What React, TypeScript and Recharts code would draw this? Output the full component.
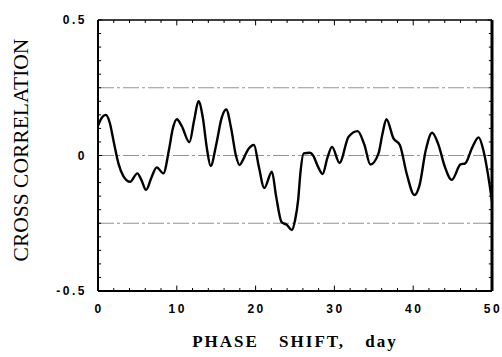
import React from 'react';
import { LineChart, Line, XAxis, YAxis, ReferenceLine } from 'recharts';

// phase shift (days) and cross-correlation
const phaseShift = [
    0, 0.5, 1.0, 1.5, 2.0, 2.6, 3.2, 4.07, 4.99, 5.5, 6.1, 6.8, 7.45, 8.3, 9.0, 9.5,
    10.0, 10.6, 11.6, 12.2, 12.75, 13.3, 13.8, 14.3, 15.0, 15.7, 16.27, 16.9, 17.5, 17.97,
    18.5, 19.0, 19.8, 20.4, 21.1, 22.07, 22.6, 23.3, 23.97, 24.6, 25.0, 25.4, 25.7, 26.1,
    26.9, 27.3, 27.9, 28.5, 29.1, 29.7, 30.65, 31.8, 32.95, 33.8, 34.56, 35.6, 36.1, 36.6,
    37.5, 38.3, 39.2, 40.15, 40.8, 41.6, 42.4, 43.2, 44.0, 44.9, 46.0, 46.6, 47.5, 48.3,
    48.9, 49.4, 50,
];
const crossCorr = [
    0.11, 0.14, 0.15, 0.12, 0.05, -0.03, -0.075, -0.097, -0.066, -0.09, -0.127, -0.08, -0.044, -0.066, 0.02, 0.1,
    0.134, 0.11, 0.049, 0.13, 0.2, 0.14, 0.03, -0.039, 0.04, 0.14, 0.17, 0.1, 0.0, -0.035,
    -0.01, 0.02, 0.039, -0.04, -0.12, -0.06, -0.15, -0.246, -0.256, -0.275, -0.24, -0.164, -0.06, 0.008,
    0.01, 0.0, -0.04, -0.068, -0.01, 0.032, -0.027, 0.069, 0.09, 0.04, -0.033, 0.008, 0.08, 0.134,
    0.063, 0.039, -0.07, -0.146, -0.11, 0.02, 0.084, 0.04, -0.04, -0.09, -0.033, -0.029, 0.03, 0.067,
    0.02, -0.054, -0.17,
];

const xTicks = [0, 2, 4, 6, 8, 10, 12, 14, 16, 18, 20, 22, 24, 26, 28, 30, 32, 34, 36, 38, 40, 42, 44, 46, 48, 50];
const xLabels = [0, 10, 20, 30, 40, 50];
const yTicks = [
    -0.5, -0.45, -0.4, -0.35, -0.3, -0.25, -0.2, -0.15, -0.1, -0.05, 0,
    0.05, 0.1, 0.15, 0.2, 0.25, 0.3, 0.35, 0.4, 0.45, 0.5,
];
const yLabels = [-0.5, 0, 0.5];
const refLevels = [0.25, 0, -0.25];

const X_MIN = 0;
const X_MAX = 50;
const Y_MIN = -0.5;
const Y_MAX = 0.5;

const data = phaseShift.map((d, i) => ({ shift: d, corr: crossCorr[i] }));

const tickFont = {
    fontFamily: '"Liberation Sans", Arial, sans-serif',
    fontWeight: 700,
    fontSize: 12,
    letterSpacing: 2.5,
    fill: '#000',
};

const isMajorX = (v: number) => xLabels.includes(v);
const isMajorY = (v: number) => yLabels.some((l) => Math.abs(l - v) < 1e-6);

// tick mark lengths, in data units (about 3 / 5 px)
const xTickLen = (v: number) => (isMajorX(v) ? 0.02 : 0.011);
const yTickLen = (v: number) => (isMajorY(v) ? 0.55 : 0.4);

const BottomLabel = ({ x, y, payload }: any) =>
    isMajorX(payload.value) ? (
        <text x={x + 1} y={y + 22} textAnchor="middle" style={tickFont}>
            {payload.value}
        </text>
    ) : (
        <g />
    );

const LeftLabel = ({ x, y, payload }: any) => {
    const v = payload.value;
    if (!isMajorY(v)) return <g />;
    const txt = Math.abs(v) < 1e-6 ? '0' : v < 0 ? '-' + Math.abs(v).toFixed(1) : v.toFixed(1);
    return (
        <text x={x - 11} y={y + 4} textAnchor="end" style={tickFont}>
            {txt}
        </text>
    );
};

const titleFont = {
    fontFamily: '"Liberation Serif", "Times New Roman", serif',
    fill: '#000',
};

export default function App() {
    return (
        <div style={{ position: 'absolute', left: 0, top: 0, width: 502, height: 357, background: '#fff' }}>
            <LineChart width={502} height={357} data={data} margin={{ top: 20, right: 10, bottom: 0, left: 0 }}>
                <XAxis
                    dataKey="shift"
                    type="number"
                    domain={[X_MIN, X_MAX]}
                    ticks={xTicks}
                    interval={0}
                    height={66}
                    tickSize={0}
                    tickMargin={0}
                    tickLine={false}
                    tick={BottomLabel}
                    axisLine={false}
                />
                <YAxis
                    type="number"
                    domain={[Y_MIN, Y_MAX]}
                    ticks={yTicks}
                    interval={0}
                    width={98}
                    tickSize={0}
                    tickMargin={0}
                    tickLine={false}
                    tick={LeftLabel}
                    axisLine={false}
                />
                {refLevels.map((lvl) => (
                    <ReferenceLine
                        key={lvl}
                        y={lvl}
                        stroke="#777"
                        strokeWidth={0.8}
                        strokeDasharray="16 3 3 3"
                    />
                ))}
                {/* tick marks on all four sides, pointing inward */}
                {xTicks.map((v) => (
                    <ReferenceLine
                        key={'b' + v}
                        segment={[{ x: v, y: Y_MIN }, { x: v, y: Y_MIN + xTickLen(v) }]}
                        stroke="#000"
                        strokeWidth={1}
                    />
                ))}
                {xTicks.map((v) => (
                    <ReferenceLine
                        key={'t' + v}
                        segment={[{ x: v, y: Y_MAX }, { x: v, y: Y_MAX - xTickLen(v) }]}
                        stroke="#000"
                        strokeWidth={1}
                    />
                ))}
                {yTicks.map((v) => (
                    <ReferenceLine
                        key={'l' + v}
                        segment={[{ x: X_MIN, y: v }, { x: X_MIN + yTickLen(v), y: v }]}
                        stroke="#000"
                        strokeWidth={1}
                    />
                ))}
                {yTicks.map((v) => (
                    <ReferenceLine
                        key={'r' + v}
                        segment={[{ x: X_MAX - yTickLen(v), y: v }, { x: X_MAX, y: v }]}
                        stroke="#000"
                        strokeWidth={1}
                    />
                ))}
                {/* frame */}
                <ReferenceLine y={Y_MAX} stroke="#000" strokeWidth={1.6} />
                <ReferenceLine y={Y_MIN} stroke="#000" strokeWidth={2} />
                <ReferenceLine x={X_MIN} stroke="#000" strokeWidth={2} />
                <ReferenceLine x={X_MAX} stroke="#000" strokeWidth={3} />
                <Line
                    type="monotone"
                    dataKey="corr"
                    stroke="#000"
                    strokeWidth={2.4}
                    dot={false}
                    isAnimationActive={false}
                />
            </LineChart>
            <svg width={502} height={357} style={{ position: 'absolute', left: 0, top: 0, pointerEvents: 'none' }}>
                <text
                    transform="translate(28,150) rotate(-90)"
                    textAnchor="middle"
                    style={{ ...titleFont, fontSize: 21.5 }}
                >
                    CROSS CORRELATION
                </text>
                <text
                    x={295}
                    y={347}
                    textAnchor="middle"
                    style={{ ...titleFont, fontSize: 17, fontWeight: 700, letterSpacing: 2, wordSpacing: 14 }}
                >
                    PHASE SHIFT, day
                </text>
            </svg>
        </div>
    );
}
